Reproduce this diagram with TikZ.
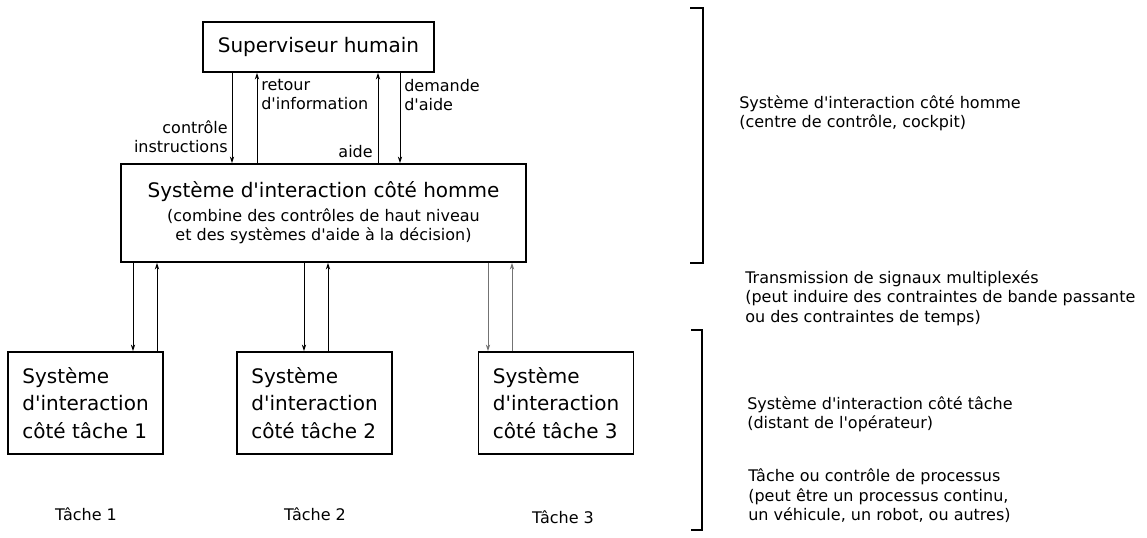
\documentclass[tikz,border=0pt]{standalone}
\usepackage{fontspec}
\setmainfont{DejaVu Sans}[Ligatures=TeXOff]
\usetikzlibrary{arrows.meta}

\newcommand{\grand}{\fontsize{15}{18.75}\selectfont}
\newcommand{\boitefont}{\fontsize{15}{19.5}\selectfont}
\newcommand{\petit}{\fontsize{12}{14.6}\selectfont}

\begin{document}
\begin{tikzpicture}[x=0.75pt,y=0.75pt,yscale=-1,xscale=1,
		boite/.style={draw, line width=1.1pt, inner sep=0pt},
		tache/.style={boite, minimum width=116pt, minimum height=76.5pt, align=left, font=\boitefont},
		fleche/.style={line width=0.75pt, -{Stealth[length=5pt,width=3.2pt]}},
		crochet/.style={line width=1.5pt},
		legende/.style={inner sep=0pt, font=\petit}]
		\useasboundingbox (0,0) rectangle (1147,537);

		% boites
		\node[boite, minimum width=173pt, minimum height=37.5pt, font=\grand] (sup) at (318.5,47) {Superviseur humain};
		\node[boite, minimum width=303.75pt, minimum height=73.5pt, align=center, font=\petit] (homme) at (323.5,213)
			{{\grand Système d'interaction côté homme}\\[3pt](combine des contrôles de haut niveau\\et des systèmes d'aide à la décision)};
		\node[tache] (t1) at (85.5,403) {Système\\[1pt]d'interaction\\[1pt]côté tâche 1};
		\node[tache] (t2) at (314.5,403) {Système\\[1pt]d'interaction\\[1pt]côté tâche 2};
		\node[tache] (t3) at (556,403) {Système\\[1pt]d'interaction\\[1pt]côté tâche 3};

		% fleches superviseur / homme
		\draw[fleche] (sup.south -| 232,0) -- (homme.north -| 232,0);
		\draw[fleche] (homme.north -| 257,0) -- (sup.south -| 257,0);
		\draw[fleche] (homme.north -| 378,0) -- (sup.south -| 378,0);
		\draw[fleche] (sup.south -| 400,0) -- (homme.north -| 400,0);

		\node[legende, align=right, anchor=south east] (lctrl) at (228,153) {contrôle\\instructions};
		\node[legende, align=left, anchor=north west] (lretour) at (261,79) {retour\\d'information};
		\node[legende, align=left, anchor=north west] (ldemande) at (404,79) {demande\\d'aide};
		\node[legende, anchor=south east] (laide) at (373,158) {aide};

		% fleches homme / taches
		\draw[fleche] (homme.south -| 133,0) -- (t1.north -| 133,0);
		\draw[fleche] (t1.north -| 157,0) -- (homme.south -| 157,0);
		\draw[fleche] (homme.south -| 304,0) -- (t2.north -| 304,0);
		\draw[fleche] (t2.north -| 328,0) -- (homme.south -| 328,0);
		\draw[fleche, black!55] (homme.south -| 488,0) -- (t3.north -| 488,0);
		\draw[fleche, black!55] (t3.north -| 512,0) -- (homme.south -| 512,0);

		\node[legende] (tache1) at (86,514) {Tâche 1};
		\node[legende] (tache2) at (315,514) {Tâche 2};
		\node[legende] (tache3) at (563,517) {Tâche 3};

		% crochets et textes de droite
		\draw[crochet] (690,8) -- (703,8) -- (703,263) -- (690,263);
		\draw[crochet] (691,330) -- (702,330) -- (702,530) -- (691,530);

		\node[legende, align=left, anchor=west] (dhomme) at (739,113) {Système d'interaction côté homme\\(centre de contrôle, cockpit)};
		\node[legende, align=left, anchor=west] (dtrans) at (745,298) {Transmission de signaux multiplexés\\(peut induire des contraintes de bande passante\\ou des contraintes de temps)};
		\node[legende, align=left, anchor=west] (dtache) at (747,414) {Système d'interaction côté tâche\\(distant de l'opérateur)};
		\node[legende, align=left, anchor=west] (dproc) at (748,496) {Tâche ou contrôle de processus\\(peut être un processus continu,\\un véhicule, un robot, ou autres)};
	\end{tikzpicture}
\end{document}
